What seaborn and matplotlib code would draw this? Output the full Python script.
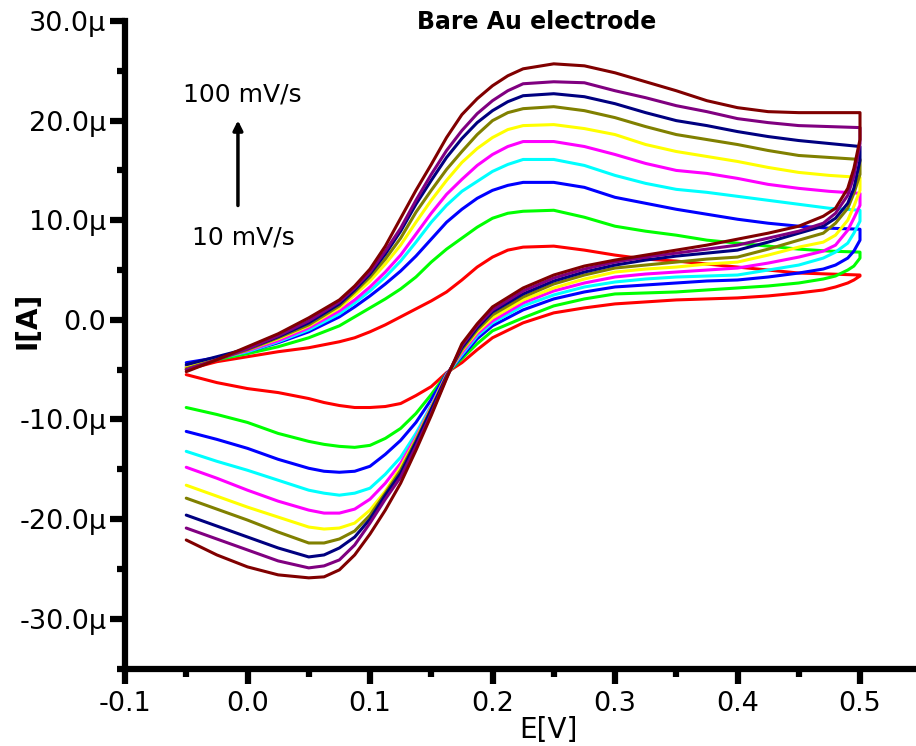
import numpy as np
import pandas as pd
import matplotlib
matplotlib.use("Agg")
import matplotlib.pyplot as plt
import seaborn as sns
from matplotlib.ticker import MultipleLocator, FuncFormatter

# ---------------- data (current in µA, potential in V) ----------------
scan_rates = [10, 20, 30, 40, 50, 60, 70, 80, 90, 100]
line_colors = ["#FF0000", "#00FF00", "#0000FF", "#00FFFF", "#FF00FF",
               "#FFFF00", "#808000", "#000080", "#800080", "#800000"]

# forward (anodic) sweep potentials
E_fwd = [-0.05, -0.025, 0.0, 0.025, 0.05, 0.075, 0.0875, 0.1, 0.1125, 0.125,
         0.1375, 0.15, 0.1625, 0.175, 0.1875, 0.2, 0.2125, 0.225, 0.25, 0.275,
         0.3, 0.325, 0.35, 0.375, 0.4, 0.425, 0.45, 0.475, 0.5]
# reverse (cathodic) sweep potentials
E_rev = [0.5, 0.495, 0.49, 0.48, 0.47, 0.45, 0.425, 0.4, 0.375, 0.35,
         0.325, 0.3, 0.275, 0.25, 0.225, 0.2, 0.1875, 0.175, 0.1625, 0.15,
         0.1375, 0.125, 0.1125, 0.1, 0.0875, 0.075, 0.0625, 0.05, 0.025, 0.0,
         -0.025, -0.05]

fwd_10 = [-5.0, -4.2, -3.7, -3.2, -2.8, -2.2, -1.8, -1.2, -0.5, 0.3,
          1.1, 1.9, 2.8, 4.0, 5.3, 6.3, 7.0, 7.3, 7.4, 7.0,
          6.5, 6.1, 5.9, 5.6, 5.3, 5.0, 4.7, 4.6, 4.5]
fwd_20 = [-4.8, -4.0, -3.4, -2.7, -1.8, -0.6, 0.3, 1.2, 2.1, 3.1,
          4.3, 5.8, 7.1, 8.2, 9.3, 10.2, 10.7, 10.9, 11.0, 10.3,
          9.4, 8.9, 8.5, 8.0, 7.7, 7.4, 7.1, 6.9, 6.8]
fwd_30 = [-4.3, -3.8, -3.2, -2.3, -1.2, 0.3, 1.3, 2.4, 3.6, 4.9,
          6.4, 8.1, 9.8, 11.1, 12.2, 13.0, 13.5, 13.8, 13.8, 13.3,
          12.3, 11.7, 11.1, 10.6, 10.1, 9.7, 9.4, 9.2, 9.1]
fwd_40 = [-4.6, -3.9, -3.2, -2.2, -1.0, 0.6, 1.7, 2.9, 4.3, 5.9,
          7.8, 9.8, 11.5, 12.9, 13.9, 14.9, 15.6, 16.1, 16.1, 15.5,
          14.5, 13.7, 13.1, 12.8, 12.4, 12.0, 11.6, 11.2, 11.0]
fwd_50 = [-4.7, -3.9, -3.1, -2.1, -0.8, 0.9, 2.0, 3.3, 4.8, 6.5,
          8.6, 10.7, 12.6, 14.1, 15.5, 16.6, 17.4, 17.9, 17.9, 17.4,
          16.6, 15.7, 15.0, 14.7, 14.2, 13.6, 13.2, 12.9, 12.7]
fwd_60 = [-4.8, -3.9, -3.0, -1.9, -0.6, 1.2, 2.5, 3.9, 5.6, 7.5,
          9.8, 12.0, 14.0, 15.8, 17.2, 18.3, 19.1, 19.5, 19.6, 19.2,
          18.6, 17.6, 16.9, 16.4, 15.9, 15.3, 14.8, 14.5, 14.3]
fwd_70 = [-4.9, -4.0, -3.0, -1.8, -0.5, 1.4, 2.8, 4.3, 6.1, 8.2,
          10.8, 13.0, 15.1, 16.9, 18.6, 20.0, 20.8, 21.2, 21.4, 21.0,
          20.3, 19.4, 18.6, 18.1, 17.6, 17.0, 16.5, 16.3, 16.1]
fwd_80 = [-4.5, -3.7, -2.9, -1.7, -0.3, 1.6, 3.0, 4.6, 6.6, 8.9,
          11.6, 14.0, 16.3, 18.2, 19.8, 21.0, 21.9, 22.5, 22.7, 22.4,
          21.7, 20.8, 20.0, 19.5, 18.9, 18.4, 18.0, 17.7, 17.4]
fwd_90 = [-5.0, -4.0, -2.9, -1.6, -0.1, 1.8, 3.2, 4.8, 6.9, 9.2,
          12.0, 14.6, 17.0, 19.0, 20.7, 22.0, 23.0, 23.7, 23.9, 23.8,
          23.0, 22.3, 21.5, 20.9, 20.2, 19.8, 19.5, 19.4, 19.3]
fwd_100 = [-5.2, -4.0, -2.7, -1.4, 0.2, 2.0, 3.4, 5.1, 7.4, 10.2,
           13.0, 15.6, 18.3, 20.6, 22.2, 23.5, 24.5, 25.2, 25.7, 25.5,
           24.8, 23.9, 23.0, 22.0, 21.3, 20.9, 20.8, 20.8, 20.8]

rev_10 = [4.4, 4.0, 3.7, 3.3, 3.0, 2.7, 2.4, 2.2, 2.1, 2.0,
          1.8, 1.6, 1.2, 0.7, -0.3, -1.8, -3.0, -4.3, -5.3, -6.7,
          -7.6, -8.4, -8.7, -8.8, -8.8, -8.6, -8.3, -7.9, -7.3, -6.9,
          -6.3, -5.5]
rev_20 = [6.2, 5.4, 5.0, 4.4, 4.1, 3.7, 3.4, 3.2, 3.0, 2.8,
          2.7, 2.6, 2.1, 1.4, 0.2, -1.1, -2.4, -3.9, -5.4, -7.5,
          -9.4, -10.9, -11.9, -12.6, -12.8, -12.7, -12.5, -12.2, -11.4, -10.3,
          -9.5, -8.8]
rev_30 = [8.0, 6.9, 6.2, 5.5, 5.1, 4.7, 4.3, 4.0, 3.9, 3.7,
          3.5, 3.3, 2.8, 2.1, 1.0, -0.6, -1.9, -3.7, -5.4, -8.0,
          -10.3, -12.1, -13.5, -14.7, -15.2, -15.3, -15.2, -14.9, -14.0, -12.9,
          -12.0, -11.2]
rev_40 = [9.9, 8.7, 7.7, 6.8, 6.2, 5.5, 5.0, 4.5, 4.4, 4.3,
          4.1, 3.8, 3.3, 2.5, 1.4, -0.3, -1.6, -3.5, -5.5, -8.6,
          -11.4, -13.8, -15.5, -16.9, -17.4, -17.6, -17.4, -17.1, -16.1, -15.1,
          -14.2, -13.2]
rev_50 = [11.5, 10.2, 9.0, 7.5, 6.9, 6.3, 5.7, 5.2, 5.0, 4.8,
          4.6, 4.3, 3.7, 2.9, 1.7, -0.1, -1.4, -3.3, -5.5, -8.7,
          -11.8, -14.4, -16.4, -18.0, -19.0, -19.4, -19.4, -19.1, -18.2, -17.1,
          -15.9, -14.8]
rev_60 = [13.0, 11.4, 10.0, 8.5, 7.8, 7.3, 6.5, 5.8, 5.6, 5.3,
          5.1, 4.8, 4.1, 3.2, 2.0, 0.2, -1.2, -3.1, -5.6, -8.8,
          -12.0, -14.8, -17.2, -19.1, -20.4, -20.9, -21.0, -20.8, -19.8, -18.8,
          -17.7, -16.6]
rev_70 = [14.6, 12.7, 11.2, 9.7, 8.7, 8.0, 7.1, 6.3, 6.1, 5.8,
          5.5, 5.2, 4.5, 3.6, 2.3, 0.5, -1.0, -3.0, -5.6, -8.9,
          -12.1, -15.1, -17.4, -19.6, -21.2, -22.0, -22.4, -22.4, -21.3, -20.1,
          -19.0, -17.9]
rev_80 = [16.0, 13.2, 11.7, 10.2, 9.4, 8.7, 7.8, 7.0, 6.7, 6.4,
          6.0, 5.5, 4.8, 3.9, 2.6, 0.8, -0.8, -2.8, -5.7, -9.0,
          -12.3, -15.4, -17.6, -20.0, -21.8, -22.9, -23.6, -23.8, -22.9, -21.8,
          -20.7, -19.6]
rev_90 = [17.7, 14.4, 12.5, 10.7, 9.7, 8.9, 8.2, 7.5, 7.1, 6.7,
          6.3, 5.8, 5.1, 4.2, 2.9, 1.0, -0.6, -2.6, -5.8, -9.4,
          -12.7, -15.8, -18.0, -20.4, -22.6, -24.1, -24.7, -24.9, -24.2, -23.1,
          -22.0, -20.9]
rev_100 = [18.1, 15.2, 13.2, 11.2, 10.4, 9.4, 8.7, 8.1, 7.5, 7.0,
           6.5, 6.0, 5.4, 4.5, 3.2, 1.3, -0.4, -2.4, -5.9, -9.6,
           -13.1, -16.4, -19.1, -21.5, -23.6, -25.1, -25.8, -25.9, -25.6, -24.8,
           -23.6, -22.1]

fwd_list = [fwd_10, fwd_20, fwd_30, fwd_40, fwd_50, fwd_60, fwd_70, fwd_80, fwd_90, fwd_100]
rev_list = [rev_10, rev_20, rev_30, rev_40, rev_50, rev_60, rev_70, rev_80, rev_90, rev_100]

title_text = "Bare Au electrode"
x_label = "E[V]"
y_label = "I[A]"
arrow_top_text = "100 mV/s"
arrow_bottom_text = "10 mV/s"

# ---------------- long table ----------------
rows = []
for rate, f, r in zip(scan_rates, fwd_list, rev_list):
    E_all = E_fwd + E_rev
    I_all = f + r
    for k, (e, i) in enumerate(zip(E_all, I_all)):
        rows.append({"rate": rate, "step": k, "E": e, "I": i})
df = pd.DataFrame(rows)

# ---------------- figure ----------------
sns.set_style("ticks")
plt.rcParams["font.family"] = ["DejaVu Sans"]
plt.rcParams.update({"text.color": "black", "axes.edgecolor": "black",
                     "xtick.color": "black", "ytick.color": "black",
                     "axes.labelcolor": "black"})

fig = plt.figure(figsize=(9.16, 7.46), dpi=100)
ax = fig.add_axes([125 / 916, 1 - 668.5 / 746, 1 - 125 / 916, (668.5 - 21) / 746])

sns.lineplot(data=df, x="E", y="I", hue="rate", palette=dict(zip(scan_rates, line_colors)),
             sort=False, estimator=None, units="rate", legend=False, linewidth=2.2, ax=ax)

ax.set_xlim(-0.1, (916 - 125) / 1225 - 0.1)
ax.set_ylim(-35, 30)

for s in ["top", "right"]:
    ax.spines[s].set_visible(False)
for s in ["left", "bottom"]:
    ax.spines[s].set_linewidth(4.5)
    ax.spines[s].set_color("black")
    ax.spines[s].set_capstyle("projecting")

ax.xaxis.set_major_locator(MultipleLocator(0.1))
ax.xaxis.set_minor_locator(MultipleLocator(0.05))
ax.yaxis.set_major_locator(MultipleLocator(10))
ax.yaxis.set_minor_locator(MultipleLocator(5))

ax.xaxis.set_major_formatter(FuncFormatter(lambda v, p: ("%.1f" % v).replace("-0.0", "0.0")))
def yfmt(v, p):
    if abs(v) < 1e-9:
        return "0.0"
    return "%.1fµ" % v
ax.yaxis.set_major_formatter(FuncFormatter(yfmt))

ax.tick_params(which="major", direction="out", length=10.5, width=4.5, labelsize=19.5,
               color="black", labelcolor="black")
ax.tick_params(which="minor", direction="out", length=5.5, width=4.5, color="black")
ax.tick_params(axis="x", which="major", pad=6)
ax.tick_params(axis="y", which="major", pad=3)

ax.set_xlabel("")
ax.set_ylabel("")
fig.text(548 / 916, 1 - 730 / 746, x_label, ha="center", va="center", fontsize=20, color="black")
fig.text(28 / 916, 1 - 320 / 746, y_label, ha="center", va="center", rotation=90,
         fontsize=20, fontweight="bold", color="black")
fig.text(537 / 916, 1 - 22 / 746, title_text, ha="center", va="center",
         fontsize=17, fontweight="bold", color="black")

# scan-rate arrow
ax.annotate("", xy=(-0.0078, 20.3), xytext=(-0.0078, 11.2),
            arrowprops=dict(arrowstyle="-|>", lw=2.5, color="black", mutation_scale=14))
ax.text(-0.0045, 22.6, arrow_top_text, ha="center", va="center", fontsize=18, color="black")
ax.text(-0.003, 8.3, arrow_bottom_text, ha="center", va="center", fontsize=18, color="black")

fig.savefig("out.png", dpi=100)
